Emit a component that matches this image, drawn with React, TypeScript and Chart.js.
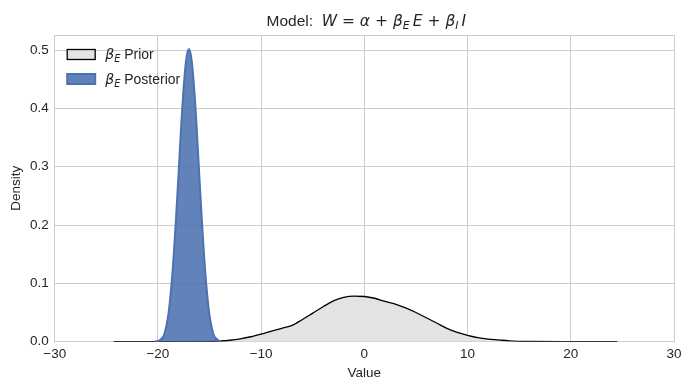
import React, { useEffect, useRef } from 'react';
import { Chart, registerables } from 'chart.js';

Chart.register(...registerables);

// ---- data ----
const priorX = [-24.3, -20, -16, -14, -13, -12, -11, -10, -9, -8, -7, -6, -5, -4, -3, -2, -1, 0, 1, 2, 3, 4, 5, 6, 7, 8, 9, 10, 11, 12, 13, 14, 16, 20, 24.5];
const priorY = [0, 0.0002, 0.0005, 0.0012, 0.0025, 0.005, 0.0085, 0.013, 0.018, 0.023, 0.028, 0.038, 0.049, 0.06, 0.07, 0.076, 0.078, 0.0775, 0.0745, 0.069, 0.0645, 0.058, 0.05, 0.041, 0.032, 0.023, 0.016, 0.011, 0.007, 0.0045, 0.003, 0.0015, 0.0004, 0.0001, 0];

const postX = [-20.3, -19.8, -19.4, -19, -18.75, -18.5, -18.25, -18, -17.75, -17.5, -17.25, -17, -16.75, -16.5, -16.25, -16, -15.75, -15.5, -15.25, -15, -14.6, -14.2, -13.9];
const postY = [0, 0.003, 0.012, 0.045, 0.085, 0.14, 0.21, 0.288, 0.368, 0.437, 0.485, 0.502, 0.485, 0.437, 0.368, 0.288, 0.21, 0.14, 0.085, 0.045, 0.012, 0.003, 0];

const xMin = -30;
const xMax = 30;
const xStep = 10;
const yMin = 0;
const yMax = 0.5258;
const yStep = 0.1;

const seriesNames = ['Prior', 'Posterior'];
const xAxisTitle = 'Value';
const yAxisTitle = 'Density';
const titleText = 'Model:';

const SANS = '"Liberation Sans", Arial, Helvetica, sans-serif';
const MATH = '"DejaVu Sans", sans-serif';

type Seg = { t: string; kind: 'txt' | 'it' | 'op'; sub?: boolean };

const titleSegs: Seg[] = [
  { t: titleText + '  ', kind: 'txt' },
  { t: 'W', kind: 'it' },
  { t: ' = ', kind: 'op' },
  { t: 'α', kind: 'it' },
  { t: ' + ', kind: 'op' },
  { t: 'β', kind: 'it' },
  { t: 'E', kind: 'it', sub: true },
  { t: '\u2009', kind: 'op' },
  { t: 'E', kind: 'it' },
  { t: ' + ', kind: 'op' },
  { t: 'β', kind: 'it' },
  { t: 'I', kind: 'it', sub: true },
  { t: '\u2009', kind: 'op' },
  { t: 'I', kind: 'it' },
];

function fontFor(s: Seg, size: number) {
  const sz = s.sub ? size * 0.7 : size;
  if (s.kind === 'txt') return `${sz}px ${SANS}`;
  if (s.kind === 'op') return `${sz}px ${MATH}`;
  return `oblique ${sz}px ${MATH}`;
}

function drawSegs(ctx: CanvasRenderingContext2D, segs: Seg[], x: number, y: number, size: number, align: 'left' | 'center') {
  const widths = segs.map((s) => {
    ctx.font = fontFor(s, size);
    return ctx.measureText(s.t).width;
  });
  const total = widths.reduce((a, b) => a + b, 0);
  let cx = align === 'center' ? x - total / 2 : x;
  ctx.textAlign = 'left';
  ctx.textBaseline = 'alphabetic';
  segs.forEach((s, i) => {
    ctx.font = fontFor(s, size);
    ctx.fillText(s.t, cx, y + (s.sub ? size * 0.22 : 0));
    cx += widths[i];
  });
}

const decorPlugin = {
  id: 'decor',
  beforeDatasetsDraw(chart: any) {
    const { ctx, chartArea } = chart;
    ctx.save();
    ctx.strokeStyle = '#cccccc';
    ctx.lineWidth = 1;
    ctx.beginPath();
    const t = Math.round(chartArea.top) + 0.5;
    const r = Math.round(chartArea.right) + 0.5;
    ctx.moveTo(chartArea.left, t);
    ctx.lineTo(r, t);
    ctx.lineTo(r, chartArea.bottom);
    ctx.stroke();
    ctx.restore();
  },
  afterDraw(chart: any) {
    const { ctx, chartArea } = chart;
    ctx.save();
    ctx.fillStyle = '#262626';
    drawSegs(ctx, titleSegs, (chartArea.left + chartArea.right) / 2 + 2, 25.5, 15.5, 'center');

    // legend
    const boxX = chartArea.left + 12.5;
    const boxW = 28;
    const rows = [
      { y: 54.5, fill: '#e3e3e3', stroke: '#000000', lw: 1.3 },
      { y: 79, fill: 'rgba(76,114,176,0.88)', stroke: '#4c72b0', lw: 2 },
    ];
    rows.forEach((row, i) => {
      ctx.fillStyle = row.fill;
      ctx.strokeStyle = row.stroke;
      ctx.lineWidth = row.lw;
      ctx.fillRect(boxX, row.y - 5, boxW, 10);
      ctx.strokeRect(boxX, row.y - 5, boxW, 10);
      ctx.fillStyle = '#262626';
      drawSegs(
        ctx,
        [
          { t: 'β', kind: 'it' },
          { t: 'E', kind: 'it', sub: true },
          { t: ' ' + seriesNames[i], kind: 'txt' },
        ],
        chartArea.left + 50.5,
        row.y + 4.5,
        14,
        'left'
      );
    });
    ctx.restore();
  },
};

export default function App() {
  const ref = useRef<HTMLCanvasElement | null>(null);

  useEffect(() => {
    if (!ref.current) return;
    const priorData = priorX.map((x, i) => ({ x, y: priorY[i] }));
    const postData = postX.map((x, i) => ({ x, y: postY[i] }));
    const chart = new Chart(ref.current, {
      type: 'line',
      data: {
        datasets: [
          {
            label: seriesNames[1],
            data: postData,
            borderColor: '#4c72b0',
            backgroundColor: 'rgba(76,114,176,0.88)',
            borderWidth: 2,
            fill: 'origin',
            pointRadius: 0,
            cubicInterpolationMode: 'monotone',
          },
          {
            label: seriesNames[0],
            data: priorData,
            borderColor: '#000000',
            backgroundColor: '#e3e3e3',
            borderWidth: 1.3,
            fill: 'origin',
            pointRadius: 0,
            cubicInterpolationMode: 'monotone',
          },
        ],
      },
      options: {
        responsive: false,
        animation: false,
        events: [],
        layout: { padding: { top: 35, right: 17, left: 0, bottom: 0 } },
        plugins: {
          legend: { display: false },
          title: { display: false },
          tooltip: { enabled: false },
        },
        scales: {
          x: {
            type: 'linear',
            min: xMin,
            max: xMax,
            afterFit: (s: any) => {
              s.height = 48.3;
            },
            ticks: {
              stepSize: xStep,
              padding: 4.5,
              color: '#262626',
              font: { family: SANS, size: 13.5 },
              callback: (v: any) => String(v).replace('-', '\u2212'),
            },
            grid: { color: '#cccccc', lineWidth: 1, drawTicks: false },
            border: { color: '#cccccc', width: 1 },
            title: {
              display: true,
              text: xAxisTitle,
              color: '#262626',
              font: { family: SANS, size: 13.5 },
              padding: { top: 0, bottom: 8.5 },
            },
          },
          y: {
            type: 'linear',
            min: yMin,
            max: yMax,
            afterFit: (s: any) => {
              s.width = 54.7;
            },
            ticks: {
              stepSize: yStep,
              includeBounds: false,
              padding: 6,
              color: '#262626',
              font: { family: SANS, size: 13.5 },
              callback: (v: any) => Number(v).toFixed(1),
            },
            grid: { color: '#cccccc', lineWidth: 1, drawTicks: false },
            border: { color: '#cccccc', width: 1 },
            title: {
              display: true,
              text: yAxisTitle,
              color: '#262626',
              font: { family: SANS, size: 13.5 },
              padding: { top: 8, bottom: 0 },
            },
          },
        },
      } as any,
      plugins: [decorPlugin],
    });
    return () => chart.destroy();
  }, []);

  return (
    <div style={{ position: 'fixed', left: 0, top: 0, width: 691, height: 390, background: '#ffffff' }}>
      <canvas ref={ref} width={691} height={390} style={{ width: 691, height: 390, display: 'block' }} />
    </div>
  );
}
